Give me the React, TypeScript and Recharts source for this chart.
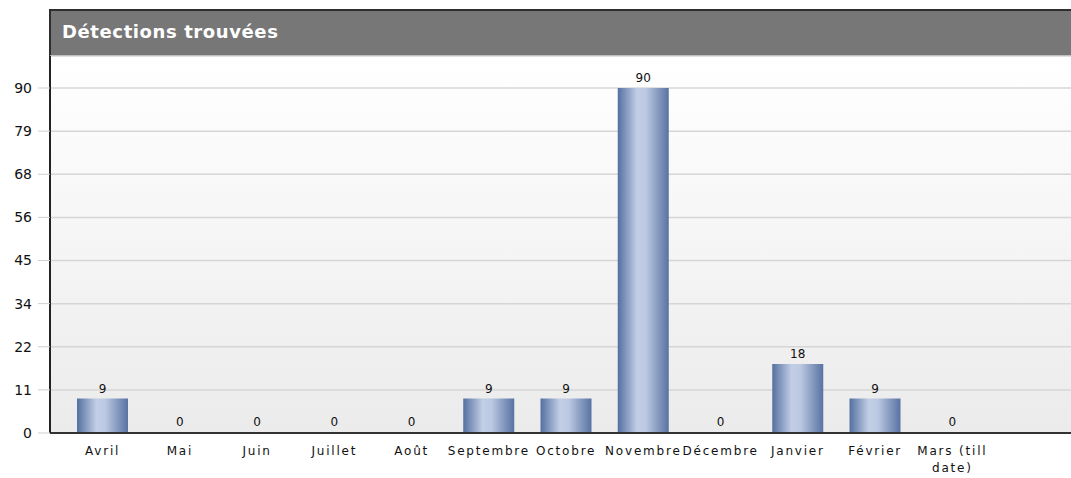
import { BarChart, Bar, XAxis, YAxis, CartesianGrid, LabelList } from 'recharts';

const MONTHS = [
  'Avril',
  'Mai',
  'Juin',
  'Juillet',
  'Août',
  'Septembre',
  'Octobre',
  'Novembre',
  'Décembre',
  'Janvier',
  'Février',
  'Mars (till date)',
];

const DETECTIONS = [9, 0, 0, 0, 0, 9, 9, 90, 0, 18, 9, 0];

const Y_TICKS = [0, 11.25, 22.5, 33.75, 45, 56.25, 67.5, 78.75, 90];
const Y_TICK_LABELS = ['0', '11', '22', '34', '45', '56', '68', '79', '90'];

const data = MONTHS.map((month, i) => ({ month, value: DETECTIONS[i] }));

const FONT = '"DejaVu Sans", Verdana, sans-serif';

// wrap long category names onto a second line
function splitLabel(label: string, max = 10): string[] {
  const words = label.split(' ');
  const lines: string[] = [];
  let cur = '';
  for (const w of words) {
    if (cur && (cur + ' ' + w).length > max) {
      lines.push(cur);
      cur = w;
    } else {
      cur = cur ? cur + ' ' + w : w;
    }
  }
  if (cur) lines.push(cur);
  return lines;
}

function MonthTick(props: any) {
  const { x, y, payload } = props;
  const lines = splitLabel(String(payload.value));
  return (
    <text
      x={x}
      y={y + 14}
      textAnchor="middle"
      fill="#111"
      fontSize={12}
      fontFamily={FONT}
      letterSpacing={1.8}
    >
      {lines.map((line, i) => (
        <tspan key={i} x={x} dy={i === 0 ? 0 : 17}>
          {line}
        </tspan>
      ))}
    </text>
  );
}

// zero-valued bars draw nothing, but still get a label
function BarShape(props: any) {
  const { x, y, width, height, value } = props;
  if (!value) return <g />;
  return <rect x={x} y={y} width={width} height={height} fill="url(#barGrad)" />;
}

export default function App() {
  return (
    <div
      style={{
        position: 'absolute',
        left: 0,
        top: 0,
        width: 1071,
        height: 478,
        background: '#fff',
        overflow: 'hidden',
      }}
    >
      <div
        style={{
          position: 'absolute',
          left: 49,
          top: 9,
          width: 1030,
          height: 45,
          background: '#777777',
          border: '2px solid #2e2e2e',
          boxSizing: 'content-box',
        }}
      >
        <span
          style={{
            position: 'absolute',
            left: 11,
            top: 10,
            color: '#fff',
            fontFamily: FONT,
            fontWeight: 'bold',
            fontSize: 18,
            letterSpacing: 0.6,
          }}
        >
          Détections trouvées
        </span>
      </div>
      <div style={{ position: 'absolute', left: 0, top: 0 }}>
        <BarChart
          width={1071}
          height={478}
          data={data}
          margin={{ top: 56, right: 0, bottom: 0, left: 0 }}
          barSize={51}
        >
          <defs>
            <linearGradient id="bgGrad" x1="0" y1="0" x2="0" y2="1">
              <stop offset="0%" stopColor="#ffffff" />
              <stop offset="100%" stopColor="#ebebeb" />
            </linearGradient>
            <linearGradient id="barGrad" x1="0" y1="0" x2="1" y2="0">
              <stop offset="0%" stopColor="#54709f" />
              <stop offset="38%" stopColor="#c2cee6" />
              <stop offset="55%" stopColor="#bcc9e2" />
              <stop offset="100%" stopColor="#5872a2" />
            </linearGradient>
          </defs>
          <CartesianGrid
            vertical={false}
            stroke="#d6d6d6"
            strokeWidth={1.5}
            fill="url(#bgGrad)"
            fillOpacity={1}
          />
          <XAxis
            dataKey="month"
            interval={0}
            tickLine={false}
            axisLine={{ stroke: '#333', strokeWidth: 2 }}
            padding={{ left: 14, right: 80 }}
            tick={<MonthTick />}
            height={45}
          />
          <YAxis
            domain={[0, 98.35]}
            ticks={Y_TICKS}
            tickFormatter={(v: number) => Y_TICK_LABELS[Y_TICKS.indexOf(v)] ?? ''}
            width={50}
            tickSize={12}
            tickMargin={6}
            tickLine={{ stroke: '#cfcfcf' }}
            axisLine={{ stroke: '#222', strokeWidth: 2 }}
            tick={{ fill: '#111', fontSize: 14, fontFamily: FONT }}
            allowDataOverflow
          />
          <Bar
            dataKey="value"
            fill="url(#barGrad)"
            minPointSize={1}
            shape={<BarShape />}
            isAnimationActive={false}
          >
            <LabelList
              dataKey="value"
              position="top"
              offset={6}
              fill="#111"
              fontSize={12}
              fontFamily={FONT}
            />
          </Bar>
        </BarChart>
      </div>
    </div>
  );
}
